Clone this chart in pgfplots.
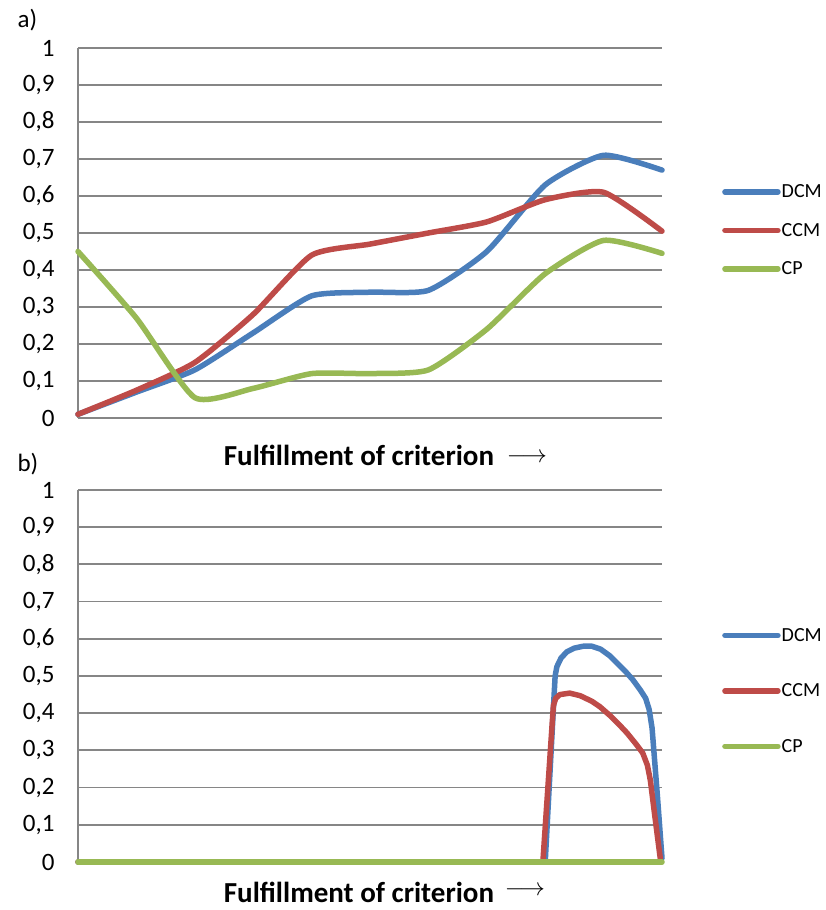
\documentclass[border=0pt]{standalone}
\usepackage{fontspec}
\setmainfont{Carlito}
\usepackage{pgfplots}
\pgfplotsset{compat=1.18}
\definecolor{dcm}{HTML}{4A7EBB}
\definecolor{ccm}{HTML}{BE4B48}
\definecolor{cp}{HTML}{98B954}
\definecolor{gridgray}{HTML}{868686}
\pgfplotsset{
 mystyle/.style={
  scale only axis, width=584pt, xmin=0, xmax=10, ymin=0, ymax=1,
  axis x line=none, axis y line*=left,
  y axis line style={draw=gridgray, line width=1.8pt},
  ytick={0,0.1,0.2,0.3,0.4,0.5,0.6,0.7,0.8,0.9,1},
  ymajorgrids, major grid style={draw=gridgray, line width=1.8pt},
  major tick length=0pt,
  /pgf/number format/use comma, /pgf/number format/fixed, /pgf/number format/precision=1, /pgf/number format/assume math mode=true,
  yticklabel style={font=\fontsize{25}{30}\selectfont, xshift=-20pt},
  clip=false,
  legend style={draw=none, fill=none, inner sep=0pt, font=\fontsize{20}{24}\selectfont, cells={anchor=west}, nodes={inner sep=1pt}},
  legend cell align=left,
  legend image code/.code={\draw[##1, line width=5.5pt, line cap=round] (2pt,0pt) -- (55pt,0pt);},
 },
 dl/.style={line width=5.5pt, line cap=round, line join=round},
}
\begin{document}
\begin{tikzpicture}
\path[use as bounding box] (0,0) rectangle (825pt,910pt);
\begin{axis}[mystyle, height=370pt, at={(78pt,492pt)}, anchor=south west,
  legend style={at={(axis description cs:1,0.507)}, anchor=west, xshift=60pt, row sep=22pt}]
\addplot[dcm, dl, smooth, tension=0.35] coordinates {(0,0.01)(1,0.07)(2,0.13)(3,0.23)(4,0.33)(5,0.34)(6,0.345)(7,0.45)(8,0.63)(9,0.71)(10,0.67)};
\addplot[ccm, dl, smooth, tension=0.35] coordinates {(0,0.01)(1,0.075)(2,0.15)(3,0.28)(4,0.44)(5,0.47)(6,0.50)(7,0.53)(8,0.59)(9,0.61)(10,0.505)};
\addplot[cp, dl, smooth, tension=0.35] coordinates {(0,0.45)(1,0.27)(2,0.055)(3,0.08)(4,0.12)(5,0.12)(6,0.13)(7,0.24)(8,0.39)(9,0.48)(10,0.445)};
\legend{DCM,CCM,CP}
\end{axis}
\begin{axis}[mystyle, height=372pt, at={(78pt,48pt)}, anchor=south west,
  legend style={at={(axis description cs:1,0.46)}, anchor=west, xshift=60pt, row sep=39pt}]
\addplot[dcm, dl] coordinates {(0,0)(8.0,0)(8.17,0.50)(8.2,0.525)(8.27,0.548)(8.37,0.565)(8.5,0.575)(8.65,0.58)(8.8,0.58)(8.95,0.572)(9.1,0.555)(9.23,0.535)(9.37,0.513)(9.5,0.49)(9.63,0.462)(9.72,0.44)(9.78,0.41)(9.83,0.36)(9.92,0.18)(10,0.01)};
\addplot[ccm, dl] coordinates {(0,0)(7.96,0)(8.14,0.42)(8.18,0.44)(8.25,0.45)(8.42,0.454)(8.6,0.447)(8.8,0.432)(8.94,0.417)(9.1,0.395)(9.25,0.372)(9.4,0.347)(9.55,0.318)(9.67,0.293)(9.75,0.26)(9.8,0.22)(9.88,0.12)(9.97,0.01)};
\addplot[cp, dl] coordinates {(0,0)(10,0)};
\legend{DCM,CCM,CP}
\end{axis}
\node[anchor=west, font=\fontsize{25}{30}\selectfont] at (14pt,890pt) {a)};
\node[anchor=west, font=\fontsize{25}{30}\selectfont] at (14pt,446pt) {b)};
\node[anchor=base, font=\fontsize{29}{35}\selectfont\bfseries] at (359pt,444pt) {Fulfillment of criterion};
\node[font=\fontsize{25}{30}\selectfont] at (527pt,452pt) {$\longrightarrow$};
\node[anchor=base, font=\fontsize{29}{35}\selectfont\bfseries] at (359pt,8pt) {Fulfillment of criterion};
\node[font=\fontsize{25}{30}\selectfont] at (525pt,19pt) {$\longrightarrow$};
\end{tikzpicture}
\end{document}
